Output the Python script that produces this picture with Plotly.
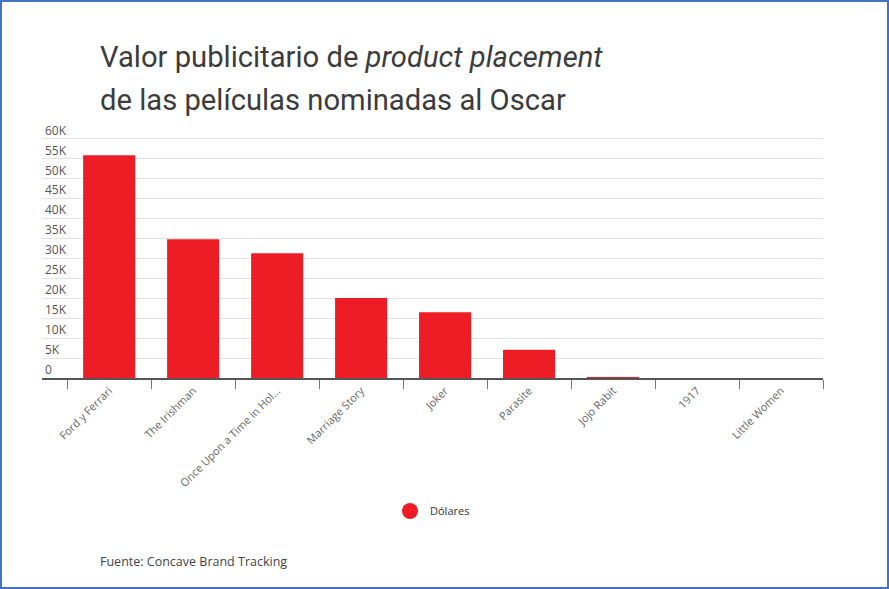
import plotly.graph_objects as go

peliculas = ["Ford y Ferrari", "The Irishman", "Once Upon a Time in Hol...", "Marriage Story",
             "Joker", "Parasite", "Jojo Rabit", "1917", "Little Women"]
dolares = [55900, 34800, 31300, 20100, 16500, 7100, 150, 0, 0]

y_ticks = [0, 5000, 10000, 15000, 20000, 25000, 30000, 35000, 40000, 45000, 50000, 55000, 60000]
y_labels = ["0", "5K", "10K", "15K", "20K", "25K", "30K", "35K", "40K", "45K", "50K", "55K", "60K"]

W, H = 889, 589
ML, MR, MT, MB = 42, 66, 115, 211
PW, PH = W - ML - MR, H - MT - MB
BASE = H - MB  # pixel row of the x axis

ROJO = "#ee1c25"

fig = go.Figure()
fig.add_trace(go.Bar(
    x=peliculas, y=dolares, name="Dólares", width=0.62,
    marker=dict(color=ROJO, line=dict(width=0)),
    showlegend=False,
))
# legend entry drawn as a circle, like the original
fig.add_trace(go.Scatter(
    x=[None], y=[None], mode="markers", name="Dólares",
    marker=dict(color=ROJO, size=16, symbol="circle"),
))

fig.update_layout(
    width=W, height=H,
    margin=dict(l=ML, r=MR, t=MT, b=MB),
    paper_bgcolor="white", plot_bgcolor="white",
    font=dict(family="Open Sans", color="#555"),
    legend=dict(orientation="h", x=0.5, xanchor="center", y=(BASE - 511) / PH, yanchor="middle",
                font=dict(size=11, color="#333"), itemsizing="trace"),
    xaxis=dict(
        type="category", range=[-0.8, 8.5], tickson="boundaries",
        showline=True, linecolor="#555", linewidth=2,
        ticks="outside", ticklen=9, tickcolor="#777", tickwidth=1,
        tickangle=-45, tickfont=dict(size=11, color="#666"),
        showgrid=False, fixedrange=True,
    ),
    yaxis=dict(
        range=[0, 66000], tickvals=y_ticks, ticktext=y_labels,
        ticklabelposition="inside top", tickfont=dict(size=12, color="#555"),
        showgrid=True, gridcolor="#e3e3e3", gridwidth=1,
        zeroline=False, showline=False, ticks="",
    ),
    annotations=[
        dict(text="Valor publicitario de <i>product placement</i>", xref="paper", yref="paper",
             x=(98 - ML) / PW, y=(BASE - 57) / PH, xanchor="left", yanchor="middle",
             showarrow=False, font=dict(family="Roboto", size=29.2, color="#3c3c3c")),
        dict(text="de las películas nominadas al Oscar", xref="paper", yref="paper",
             x=(98 - ML) / PW, y=(BASE - 100) / PH, xanchor="left", yanchor="middle",
             showarrow=False, font=dict(family="Roboto", size=29.2, color="#3c3c3c")),
        dict(text="Fuente: Concave Brand Tracking", xref="paper", yref="paper",
             x=(98 - ML) / PW, y=(BASE - 561) / PH, xanchor="left", yanchor="middle",
             showarrow=False, font=dict(size=12.5, color="#444")),
    ],
    shapes=[
        dict(type="rect", xref="paper", yref="paper", layer="above",
             x0=(1 - ML) / PW, x1=1 + (MR - 1) / PW, y0=-(MB - 1) / PH, y1=1 + (MT - 1) / PH,
             line=dict(color="#4472c4", width=2), fillcolor="rgba(0,0,0,0)"),
    ],
)

fig.write_html("out.html", config={"displayModeBar": False},
               post_script="document.body.style.margin='0';")
